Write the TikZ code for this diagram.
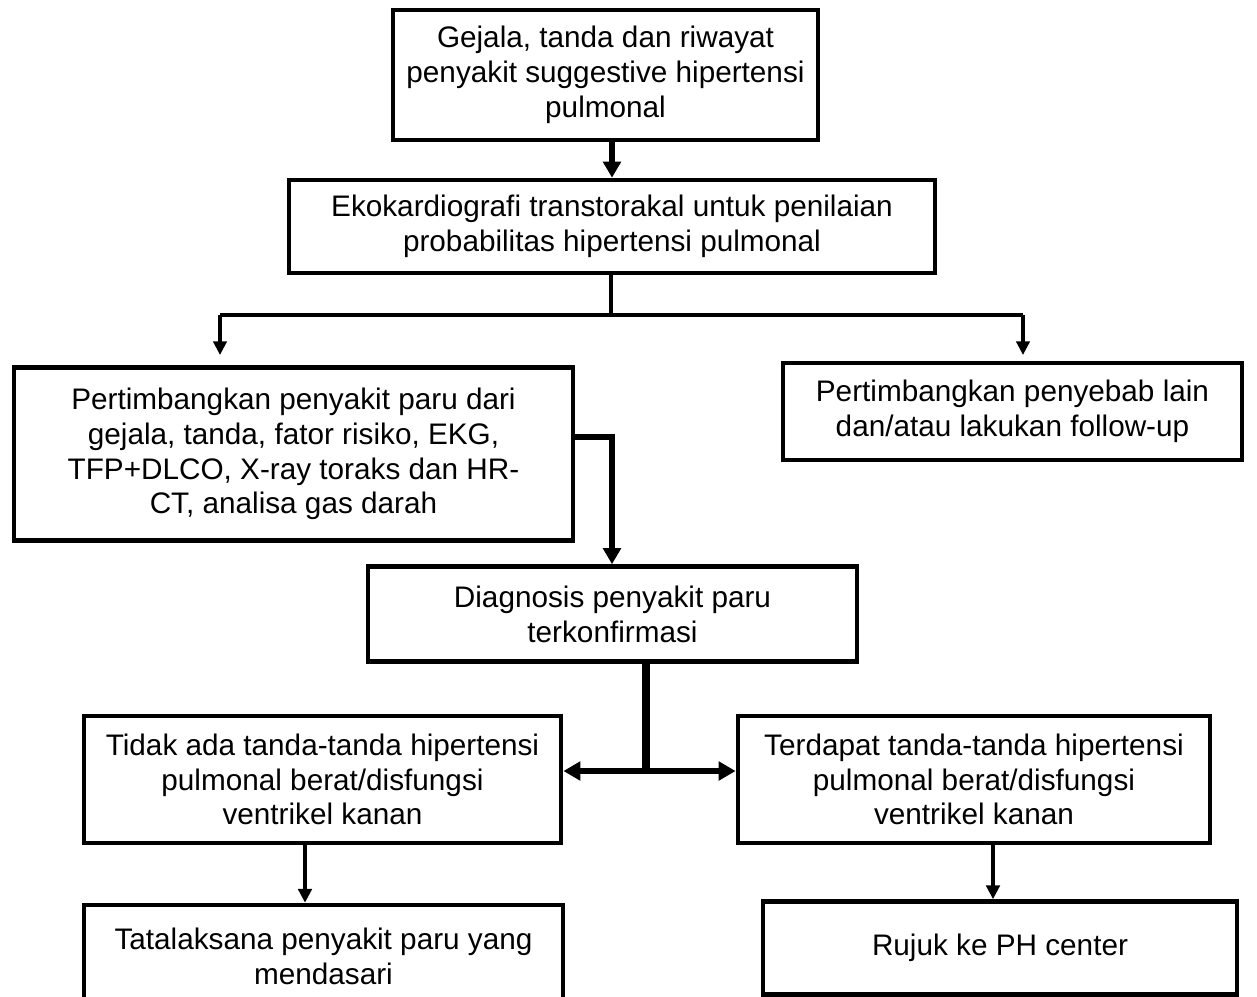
\documentclass[tikz,border=0pt]{standalone}
\usepackage{fontspec}
\setmainfont{Liberation Sans}
\usetikzlibrary{arrows.meta}
\begin{document}
\begin{tikzpicture}[x=0.01cm,y=-0.01cm,
  box/.style={draw,line width=1.3pt,align=center,inner sep=0pt,
    font=\fontsize{8.45}{9.9}\selectfont},
  link/.style={line width=0.95pt,-{Triangle[width=3.8pt,length=3.9pt]}},
  plain/.style={line width=0.95pt},
  heavy/.style={line width=1.7pt,-{Triangle[width=5pt,length=4.6pt]}},
  stem/.style={line width=2.2pt},
  bar/.style={line width=1.9pt,-{Triangle[width=5.2pt,length=4.8pt]}}]
\useasboundingbox (0,0) rectangle (1257,996);
% boxes
\node[box,minimum width=4.25cm,minimum height=1.30cm] (b1) at (605.5,75)
  {Gejala, tanda dan riwayat\\penyakit suggestive hipertensi\\pulmonal};
\node[box,minimum width=6.46cm,minimum height=0.93cm] (b2) at (612,226.5)
  {Ekokardiografi transtorakal untuk penilaian\\probabilitas hipertensi pulmonal};
\node[box,minimum width=5.59cm,minimum height=1.73cm] (b3) at (293.5,454)
  {Pertimbangkan penyakit paru dari\\gejala, tanda, fator risiko, EKG,\\TFP+DLCO, X-ray toraks dan HR-\\CT, analisa gas darah};
\node[box,minimum width=4.59cm,minimum height=0.97cm] (b4) at (1012.5,411.5)
  {Pertimbangkan penyebab lain\\dan/atau lakukan follow-up};
\node[box,minimum width=4.89cm,minimum height=0.95cm] (b5) at (612.5,614)
  {Diagnosis penyakit paru\\terkonfirmasi};
\node[box,minimum width=4.77cm,minimum height=1.27cm] (b6) at (322.5,779.5)
  {Tidak ada tanda-tanda hipertensi\\pulmonal berat/disfungsi\\ventrikel kanan};
\node[box,minimum width=4.72cm,minimum height=1.27cm] (b7) at (974,779.5)
  {Terdapat tanda-tanda hipertensi\\pulmonal berat/disfungsi\\ventrikel kanan};
\node[box,minimum width=4.79cm,minimum height=1.02cm] (b8) at (323.5,956)
  {Tatalaksana penyakit paru yang\\mendasari};
\node[box,minimum width=4.74cm,minimum height=0.93cm] (b9) at (1000,948)
  {Rujuk ke PH center};
% junction points
\coordinate (j2) at (611,315);
\coordinate (jl) at (220,315);
\coordinate (jr) at (1023,315);
\coordinate (j3) at (612,437);
\coordinate (j5) at (646,771);
% connectors
\draw[heavy] (b1.south -| 612,0) -- (b2.north -| 612,0);
\draw[plain] (b2.south -| j2) -- (j2);
\draw[plain] (jl) -- (jr);
\draw[link] (jl) -- (220,355);
\draw[link] (jr) -- (1023,355);
\draw[heavy] (b3.east |- j3) -- (j3) -- (b5.north -| j3);
\draw[stem] (b5.south -| j5) -- (j5);
\draw[bar] (j5) -- (b6.east |- j5);
\draw[bar] (j5) -- (b7.west |- j5);
\draw[link] (b6.south -| 305,0) -- (b8.north -| 305,0);
\draw[link] (b7.south -| 993,0) -- (b9.north -| 993,0);
\end{tikzpicture}
\end{document}
